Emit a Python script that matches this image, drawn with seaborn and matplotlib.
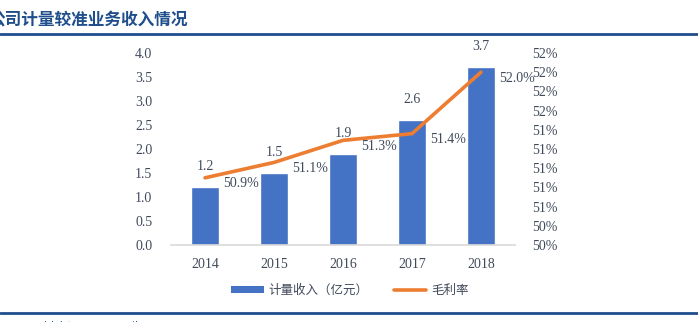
import numpy as np
import pandas as pd
import matplotlib
matplotlib.use("Agg")
import matplotlib.pyplot as plt
import seaborn as sns
from matplotlib.ticker import FixedLocator, FuncFormatter
from matplotlib.lines import Line2D
from matplotlib.patches import Patch

years = ["2014", "2015", "2016", "2017", "2018"]
revenue = [1.2, 1.5, 1.9, 2.6, 3.7]
margin = [50.9, 51.06, 51.29, 51.36, 52.0]
revenue_labels = ["1.2", "1.5", "1.9", "2.6", "3.7"]
margin_labels = ["50.9%", "51.1%", "51.3%", "51.4%", "52.0%"]
left_ticks = [0.0, 0.5, 1.0, 1.5, 2.0, 2.5, 3.0, 3.5, 4.0]
right_ticks = [50.2, 50.4, 50.6, 50.8, 51.0, 51.2, 51.4, 51.6, 51.8, 52.0, 52.2]
title = "公司计量较准业务收入情况"
legend_bar = "计量收入（亿元）"
legend_line = "毛利率"
source = "资料来源：公司公告"

sns.set_theme(style="white")
plt.rcParams["font.family"] = ["Liberation Serif", "Noto Sans CJK SC", "DejaVu Sans"]

BLUE = "#4472C4"
ORANGE = "#ED7D31"
TXT = "#404A5A"
DARK = "#1F4E8C"

fig = plt.figure(figsize=(6.98, 3.22), dpi=100)
ax = fig.add_axes([0.2443, 0.2391, 0.4942, 0.5963])

df = pd.DataFrame({"year": years, "revenue": revenue})
sns.barplot(data=df, x="year", y="revenue", color=BLUE, width=0.4, ax=ax, saturation=1)
ax.set_ylim(0, 4.0)
ax.set_xlim(-0.5, 4.5)
ax.yaxis.set_major_locator(FixedLocator(left_ticks))
ax.yaxis.set_major_formatter(FuncFormatter(lambda v, p: f"{v:.1f}"))
ax.set_xlabel("")
ax.set_ylabel("")
for s in ["top", "right", "left"]:
    ax.spines[s].set_visible(False)
ax.spines["bottom"].set_color("#D9D9D9")
ax.spines["bottom"].set_linewidth(1.2)
ax.tick_params(axis="y", length=0, pad=13, labelsize=10, labelcolor=TXT)
ax.tick_params(axis="x", length=0, pad=9, labelsize=10, labelcolor=TXT)

for i, (v, lab) in enumerate(zip(revenue, revenue_labels)):
    ax.annotate(lab, (i, v), xytext=(0, 14), textcoords="offset pixels",
                ha="center", va="bottom", fontsize=10, color=TXT)

ax2 = ax.twinx()
sns.lineplot(x=np.arange(len(years)), y=margin, color=ORANGE, linewidth=2.6, ax=ax2)
ax2.set_ylim(50.2, 52.2)
ax2.yaxis.set_major_locator(FixedLocator(right_ticks))
ax2.yaxis.set_major_formatter(FuncFormatter(lambda v, p: f"{v:.0f}%"))
for s in ["top", "right", "left", "bottom"]:
    ax2.spines[s].set_visible(False)
ax2.tick_params(axis="y", length=0, pad=12, labelsize=10, labelcolor=TXT)
ax2.set_xlim(-0.5, 4.5)

for i, (v, lab) in enumerate(zip(margin, margin_labels)):
    ax2.annotate(lab, (i, v), xytext=(36, -6), textcoords="offset pixels",
                 ha="center", va="center", fontsize=10, color=TXT)

handles = [Patch(facecolor=BLUE, edgecolor="none"),
           Line2D([0], [0], color=ORANGE, linewidth=2.6)]
leg = fig.legend(handles, [legend_bar, legend_line], loc="center",
                 bbox_to_anchor=(350 / 698, 1 - 290 / 322), ncol=2, frameon=False,
                 prop={"family": ["Noto Sans CJK SC"], "size": 9},
                 handlelength=2.6, handleheight=0.5, columnspacing=2.0, handletextpad=0.4)
for t in leg.get_texts():
    t.set_color(TXT)

fig.text(-12 / 698, 1 - 20 / 322, title, ha="left", va="center", fontsize=12,
         fontweight="bold", color=DARK, family=["Noto Sans CJK SC"])
fig.add_artist(Line2D([0, 1], [1 - 34 / 322] * 2, color=DARK, linewidth=2,
                      transform=fig.transFigure))
fig.add_artist(Line2D([0, 1], [1 - 313 / 322] * 2, color=DARK, linewidth=2,
                      transform=fig.transFigure))
fig.text(30 / 698, -6 / 322, source, ha="left", va="center", fontsize=9,
         color=DARK, family=["Noto Sans CJK SC"])

fig.savefig("out.png", dpi=100)
